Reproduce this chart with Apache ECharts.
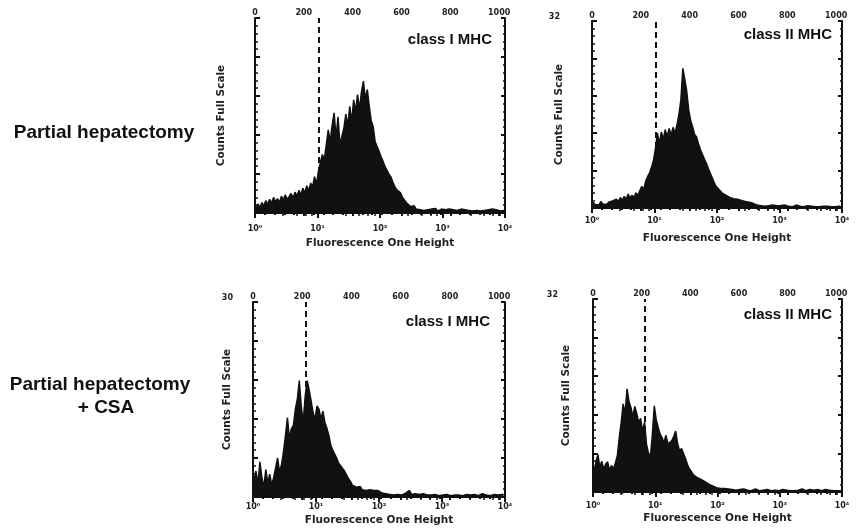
<!DOCTYPE html>
<html>
<head>
<meta charset="utf-8">
<script src="https://cdn.jsdelivr.net/npm/echarts@6/dist/echarts.min.js"></script>
<style>
html, body { margin: 0; padding: 0; background: #fff; }
#chart { width: 856px; height: 529px; }
</style>
</head>
<body>
<div id="chart"></div>
<script>
// histogram counts, one value per 8-channel bin (1024 channels = 4 decades)
var phClassI = [
    0.6,1.4,0.8,1.6,1.1,1.9,1.3,2.1,1.5,2.4,
    1.7,2.2,1.6,2.6,2.0,2.8,2.1,2.5,3.0,2.3,
    3.2,2.6,3.5,2.8,3.8,3.1,4.2,3.4,4.6,4.0,
    5.6,4.4,6.5,7.8,9.0,8.2,10.5,12.8,11.0,13.5,
    15.4,11.6,14.8,10.5,11.8,13.0,15.2,13.4,16.4,14.0,
    17.4,15.6,18.2,16.0,18.6,20.3,17.5,19.0,16.4,14.2,
    13.3,11.0,10.8,9.5,8.7,8.0,7.2,6.6,6.0,5.6,
    4.8,4.1,3.6,3.4,3.1,2.4,2.0,1.6,1.3,1.0,
    0.8,1.1,0.6,0.9,0.5,0.8,0.4,0.7,0.5,0.3,
    0.6,0.4,0.7,0.3,0.5,0.6,0.3,0.5,0.4,0.6,
    0.3,0.5,0.7,0.4,0.3,0.6,0.4,0.5,0.3,0.4,
    0.6,0.3,0.5,0.4,0.7,0.3,0.5,0.4,0.3,0.5,
    0.4,0.6,0.3,0.5,0.4,0.3,0.5,0.4
];
var phClassII = [
    1.0,0.6,0.9,0.5,1.1,0.7,0.9,0.6,1.0,0.8,
    1.2,0.9,1.5,1.1,1.8,1.3,2.0,1.5,2.4,1.7,
    2.2,1.8,2.6,2.1,3.0,3.7,3.2,4.6,5.4,6.0,
    7.0,8.2,10.2,12.8,11.0,13.0,11.8,13.4,12.2,13.6,
    12.5,13.8,12.8,14.2,16.0,18.5,23.9,22.0,20.0,16.8,
    15.0,13.9,12.6,12.2,11.0,10.0,9.2,8.4,7.7,6.8,
    6.0,5.2,4.4,3.7,3.4,3.0,2.6,2.4,2.2,2.0,
    1.8,2.0,1.6,1.8,1.5,1.7,1.3,1.4,1.1,0.9,
    1.0,0.7,0.8,0.6,0.5,0.7,0.4,0.5,0.3,0.5,
    0.4,0.3,0.5,0.3,0.4,0.2,0.4,0.3,0.5,0.2,
    0.3,0.4,0.2,0.3,0.5,0.2,0.3,0.4,0.2,0.3,
    0.4,0.2,0.3,0.5,0.2,0.3,0.2,0.4,0.3,0.2,
    0.3,0.4,0.2,0.3,0.2,0.4,0.3,0.2
];
var csaClassI = [
    2.5,4.0,2.0,5.4,3.0,1.5,4.2,2.2,3.5,1.8,
    3.0,4.5,6.0,3.8,5.0,7.0,9.5,12.2,9.0,10.5,
    11.0,13.5,15.0,17.9,14.0,11.5,15.5,17.9,16.5,14.8,
    13.0,12.0,14.0,13.5,12.0,13.2,11.5,10.6,9.5,8.0,
    7.2,6.6,6.0,5.2,4.8,4.4,4.0,3.4,2.8,2.4,
    1.8,2.0,1.5,1.3,1.6,1.1,1.3,1.0,0.8,1.1,
    0.9,1.0,0.7,1.0,0.8,0.6,0.7,0.5,0.6,0.4,
    0.5,0.3,0.6,0.4,0.5,0.3,0.4,0.6,0.5,1.0,
    0.4,0.3,0.5,0.2,0.4,0.3,0.5,0.2,0.3,0.4,
    0.3,0.2,0.4,0.3,0.2,0.5,0.3,0.2,0.4,0.3,
    0.2,0.4,0.3,0.2,0.3,0.5,0.2,0.3,0.4,0.2,
    0.3,0.2,0.4,0.3,0.2,0.3,0.5,0.2,0.3,0.4,
    0.2,0.3,0.4,0.2,0.3,0.2,0.4,0.3
];
var csaClassII = [
    3.4,5.0,6.2,4.2,5.1,3.8,4.6,5.0,3.6,4.4,
    3.8,4.8,6.0,9.0,11.5,14.6,13.0,17.1,15.0,14.0,
    12.5,14.2,13.0,11.5,12.2,10.0,11.6,7.9,6.5,5.7,
    9.5,14.3,12.0,10.7,9.6,9.0,8.2,9.4,8.0,7.9,
    8.5,9.2,10.1,8.0,6.8,7.2,7.4,5.6,4.6,3.9,
    3.4,2.9,2.6,2.4,2.2,2.1,1.9,1.7,1.5,1.3,
    1.2,1.0,0.9,0.7,0.8,0.6,0.5,0.6,0.4,0.5,
    0.3,0.4,0.5,0.3,0.2,0.4,0.3,0.5,0.2,0.3,
    0.4,0.2,0.3,0.5,0.3,0.2,0.4,0.3,0.2,0.4,
    0.3,0.2,0.4,0.3,0.5,0.2,0.3,0.4,0.2,0.3,
    0.4,0.2,0.3,0.2,0.4,0.3,0.2,0.5,0.3,0.2,
    0.3,0.4,0.2,0.3,0.2,0.4,0.3,0.2,0.3,0.4,
    0.2,0.3,0.4,0.2,0.3,0.2,0.3,0.2
];

var panelData = [phClassI, phClassII, csaClassI, csaClassII];
var panelTitles = ['class I MHC', 'class II MHC', 'class I MHC', 'class II MHC'];
var cutoffChannels = [262, 263, 214, 213];   // dashed marker
var fullScale = [30, 32, 30, 32];
var showFullScale = [false, true, true, true];
var rowLabels = ['Partial hepatectomy', 'Partial hepatectomy', '+ CSA'];
var decadeLabels = ['10⁰', '10¹', '10²', '10³', '10⁴'];
var binWidth = 8;

var grids = [
    {left: 255, top: 18, width: 250, height: 195},
    {left: 592, top: 21, width: 250, height: 187},
    {left: 253, top: 302, width: 252, height: 195},
    {left: 593, top: 299, width: 249, height: 193}
];
var yNameGap = [28, 27, 20, 21];
var xNameGap = [25, 25, 18, 21];
var xLabelMargin = [12, 9, 6, 10];
var yLabelMargin = [20, 32, 20, 35];
var titleInset = [[13, 22], [10, 14], [15, 20], [10, 16]];   // from top-right corner

var ink = '#111';
var fontFam = '"Liberation Sans", Arial, sans-serif';
var scanFont = '"DejaVu Sans", sans-serif';

var xAxes = [], yAxes = [], series = [], graphics = [];

for (var k = 0; k < 4; k++) {
    var fs = fullScale[k];
    // bottom log axis
    xAxes.push({
        type: 'log', logBase: 10, min: 1, max: 10000, gridIndex: k, position: 'bottom',
        axisLine: {lineStyle: {color: ink, width: 2}},
        axisTick: {inside: false, length: 5, lineStyle: {color: ink, width: 2}},
        minorTick: {show: true, splitNumber: 5, length: 3, lineStyle: {color: ink, width: 1.5}},
        splitLine: {show: false},
        axisLabel: {
            fontSize: 8, fontWeight: 'bold', color: '#222', fontFamily: scanFont, margin: xLabelMargin[k],
            formatter: function (v) { return decadeLabels[Math.round(Math.log10(v))]; }
        },
        name: 'Fluorescence One Height', nameLocation: 'middle', nameGap: xNameGap[k],
        nameMoveOverlap: false,
        nameTextStyle: {fontSize: 10.5, fontWeight: 'bold', color: '#222', fontFamily: scanFont}
    });
    // top channel axis
    xAxes.push({
        type: 'value', min: 0, max: 1024, interval: 200, gridIndex: k, position: 'top',
        axisLine: {lineStyle: {color: ink, width: 2}},
        axisTick: {inside: true, length: 3, lineStyle: {color: ink, width: 2}},
        minorTick: {show: true, splitNumber: 5, length: 2, lineStyle: {color: ink, width: 2}},
        splitLine: {show: false},
        axisLabel: {
            fontSize: 8, fontWeight: 'bold', color: '#222', fontFamily: scanFont, margin: 1, showMaxLabel: false,
            formatter: function (v) { return String(v); }
        }
    });
    yAxes.push({
        type: 'value', min: 0, max: fs, interval: fs / 5, gridIndex: k, position: 'left',
        axisLine: {show: true, lineStyle: {color: ink, width: 2}},
        axisTick: {show: true, inside: true, length: 5, lineStyle: {color: ink, width: 2}},
        minorTick: {show: true, splitNumber: 5, length: 3, lineStyle: {color: ink, width: 1.5}},
        splitLine: {show: false},
        axisLabel: {
            fontSize: 8, fontWeight: 'bold', color: '#222', fontFamily: scanFont, margin: yLabelMargin[k],
            showMinLabel: false, verticalAlign: 'bottom',
            formatter: (function (max, show) {
                return function (v) { return (show && v === max) ? String(max) : ''; };
            })(fs, showFullScale[k])
        },
        name: 'Counts Full Scale', nameLocation: 'middle', nameRotate: 90, nameGap: yNameGap[k],
        nameMoveOverlap: false,
        nameTextStyle: {fontSize: 10.5, fontWeight: 'bold', color: '#222', fontFamily: scanFont}
    });
    yAxes.push({
        type: 'value', min: 0, max: fs, interval: fs / 5, gridIndex: k, position: 'right',
        axisLine: {show: true, lineStyle: {color: ink, width: 2}},
        axisTick: {show: true, inside: true, length: 4, lineStyle: {color: ink, width: 2}},
        minorTick: {show: true, splitNumber: 5, length: 2, lineStyle: {color: ink, width: 1.5}},
        splitLine: {show: false},
        axisLabel: {show: false}
    });

    var pts = panelData[k].map(function (c, i) { return [i * binWidth + binWidth / 2, c]; });
    series.push({
        type: 'line', xAxisIndex: 2 * k + 1, yAxisIndex: 2 * k,
        data: pts, symbol: 'none', silent: true,
        lineStyle: {color: ink, width: 1.5},
        areaStyle: {color: ink, opacity: 1},
        markLine: {
            symbol: 'none', silent: true, label: {show: false},
            lineStyle: {color: ink, width: 2, type: [6, 4]},
            data: [{xAxis: cutoffChannels[k]}]
        }
    });

    var g = grids[k];
    graphics.push({
        type: 'text', x: g.left + g.width - titleInset[k][0], y: g.top + titleInset[k][1],
        style: {text: panelTitles[k], font: 'bold 15px ' + fontFam, fill: '#111',
                textAlign: 'right', textVerticalAlign: 'middle'}
    });
}

graphics.push({
    type: 'text', x: 104, y: 133,
    style: {text: rowLabels[0], font: 'bold 19px ' + fontFam, fill: '#111', textAlign: 'center', textVerticalAlign: 'middle'}
});
graphics.push({
    type: 'text', x: 100, y: 385,
    style: {text: rowLabels[1], font: 'bold 19px ' + fontFam, fill: '#111', textAlign: 'center', textVerticalAlign: 'middle'}
});
graphics.push({
    type: 'text', x: 106, y: 408,
    style: {text: rowLabels[2], font: 'bold 19px ' + fontFam, fill: '#111', textAlign: 'center', textVerticalAlign: 'middle'}
});

var chart = echarts.init(document.getElementById('chart'));
chart.setOption({
    backgroundColor: '#fff',
    animation: false,
    grid: grids,
    xAxis: xAxes,
    yAxis: yAxes,
    series: series,
    graphic: graphics
});
</script>
</body>
</html>
